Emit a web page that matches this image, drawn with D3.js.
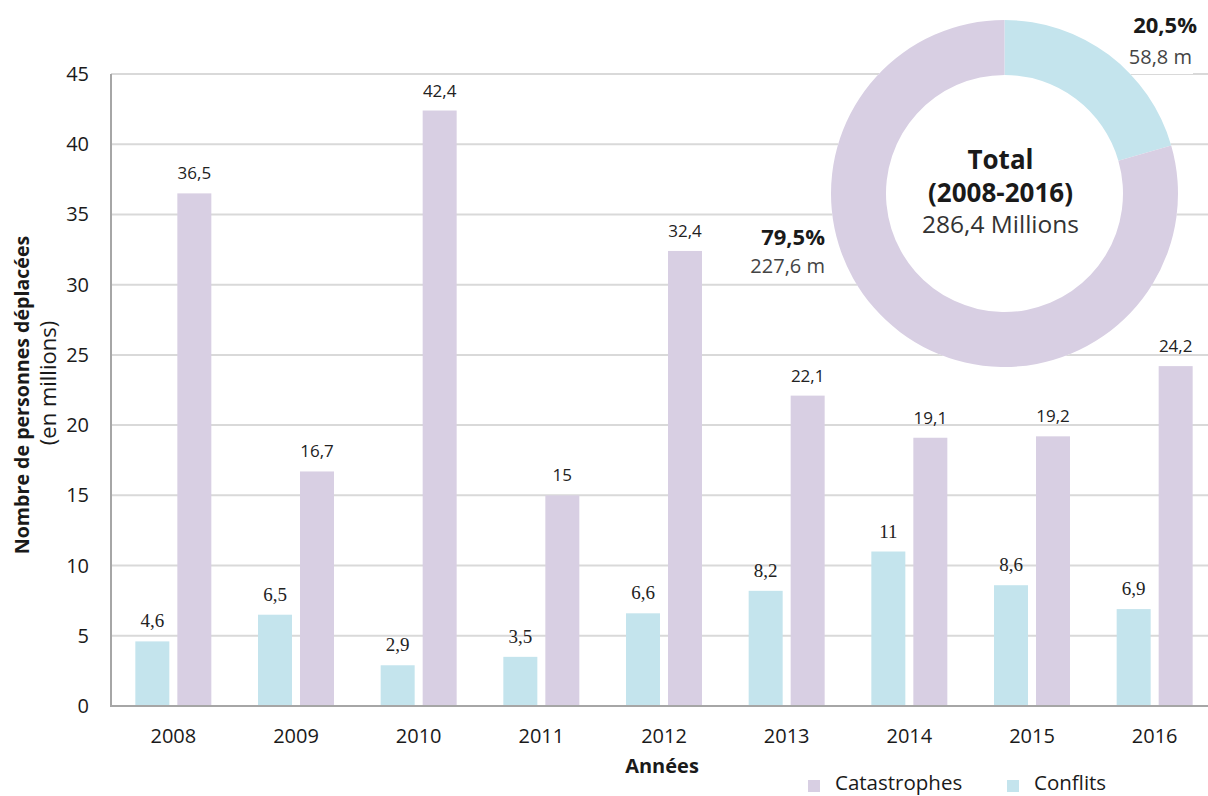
<!DOCTYPE html>
<html><head><meta charset="utf-8">
<script src="https://cdn.jsdelivr.net/npm/d3@7/dist/d3.min.js"></script>
<style>body{margin:0;background:#fff}svg{display:block}</style>
</head><body><svg id="c" width="1208" height="796" font-family="Open Sans, sans-serif"></svg>
<script>
const years = ["2008","2009","2010","2011","2012","2013","2014","2015","2016"];
const catastrophes = [36.5,16.7,42.4,15,32.4,22.1,19.1,19.2,24.2];
const conflits = [4.6,6.5,2.9,3.5,6.6,8.2,11,8.6,6.9];
const yTicks = [0,5,10,15,20,25,30,35,40,45];
const donutLabels = ["Conflits","Catastrophes"];
const donutValues = [58.8,227.6];
const donutPct = ["20,5%","79,5%"];
const donutVal = ["58,8 m","227,6 m"];
const totalLines = ["Total","(2008-2016)","286,4 Millions"];

const colCat = "#d8cfe3", colCon = "#c4e4ed";
const SANS = "'Open Sans', sans-serif", SERIF = "'Liberation Serif', 'Times New Roman', serif";
const svg = d3.select("#c");
const loc = d3.formatLocale({decimal:",",thousands:" ",grouping:[3],currency:["",""]});
const fmt = v => loc.format("~g")(v);

const x = d3.scaleBand().domain(years).range([112,1216]);
const y = d3.scaleLinear().domain([0,45]).range([706,74]);
const bw = 34, gap = 8;

// grid
svg.append("g").selectAll("line").data(yTicks.filter(t=>t>0)).join("line")
  .attr("x1",111).attr("x2",1208).attr("y1",d=>y(d)).attr("y2",d=>y(d))
  .attr("stroke","#d9d9d9").attr("stroke-width",2);

// y tick labels
svg.append("g").selectAll("text").data(yTicks).join("text")
  .attr("x",89).attr("y",d=>y(d)+7).attr("text-anchor","end").attr("font-family",SANS)
  .attr("font-size",20).attr("fill","#1a1a1a").text(d=>d);

// bars
const g = svg.append("g");
g.selectAll(".con").data(conflits).join("rect")
  .attr("x",(d,i)=>x(years[i])+x.bandwidth()/2-gap/2-bw).attr("width",bw)
  .attr("y",d=>y(d)).attr("height",d=>y(0)-y(d)).attr("fill",colCon);
g.selectAll(".cat").data(catastrophes).join("rect")
  .attr("x",(d,i)=>x(years[i])+x.bandwidth()/2+gap/2).attr("width",bw)
  .attr("y",d=>y(d)).attr("height",d=>y(0)-y(d)).attr("fill",colCat);

// labels
g.selectAll(".lcon").data(conflits).join("text")
  .attr("x",(d,i)=>x(years[i])+x.bandwidth()/2-gap/2-bw/2).attr("y",d=>y(d)-14)
  .attr("text-anchor","middle").attr("font-size",19).attr("fill","#222")
  .attr("font-family",SERIF).text(d=>fmt(d));
g.selectAll(".lcat").data(catastrophes).join("text")
  .attr("x",(d,i)=>x(years[i])+x.bandwidth()/2+gap/2+bw/2).attr("y",d=>y(d)-14)
  .attr("text-anchor","middle").attr("font-size",17).attr("font-family",SANS).attr("fill","#222").text(d=>fmt(d));

// axes
svg.append("line").attr("x1",111).attr("x2",111).attr("y1",y(45)).attr("y2",y(0)+1).attr("stroke","#a6a6a6").attr("stroke-width",2);
svg.append("line").attr("x1",111).attr("x2",1208).attr("y1",y(0)).attr("y2",y(0)).attr("stroke","#a6a6a6").attr("stroke-width",2);

svg.append("g").selectAll("text").data(years).join("text")
  .attr("x",d=>x(d)+x.bandwidth()/2).attr("y",743).attr("text-anchor","middle").attr("font-family",SANS)
  .attr("font-size",20).attr("fill","#1a1a1a").text(d=>d);

svg.append("text").attr("x",662).attr("y",773).attr("text-anchor","middle").attr("font-family",SANS)
  .attr("font-size",20).attr("font-weight","bold").attr("fill","#1a1a1a").text("Années");

svg.append("text").attr("transform","translate(29,395) rotate(-90)").attr("text-anchor","middle").attr("font-family",SANS)
  .attr("font-size",19.6).attr("font-weight","bold").attr("fill","#1a1a1a").text("Nombre de personnes déplacées");
svg.append("text").attr("transform","translate(56,383) rotate(-90)").attr("text-anchor","middle").attr("font-family",SANS)
  .attr("font-size",22).attr("fill","#1a1a1a").text("(en millions)");

// legend
const leg = [{t:"Catastrophes",c:colCat,x:808},{t:"Conflits",c:colCon,x:1007}];
const lg = svg.append("g").selectAll("g").data(leg).join("g");
lg.append("rect").attr("x",d=>d.x).attr("y",780).attr("width",12).attr("height",12).attr("fill",d=>d.c);
lg.append("text").attr("x",d=>d.x+27).attr("y",790).attr("font-family",SANS).attr("font-size",20.5).attr("fill","#1a1a1a").text(d=>d.t);

// white box behind top label
svg.append("rect").attr("x",1126).attr("y",4).attr("width",67).attr("height",70).attr("fill","#fff");

// donut
const cx = 1004.5, cy = 193.5, R = 173.5, r = 118.5;
const dg = svg.append("g").attr("transform",`translate(${cx},${cy})`);
dg.append("circle").attr("r",R).attr("fill","#fff");
const pie = d3.pie().sort(null)(donutValues);
const arc = d3.arc().innerRadius(r).outerRadius(R);
dg.selectAll("path").data(pie).join("path").attr("d",arc).attr("fill",(d,i)=>i===0?colCon:colCat);
const ty = [-25, 8, 39];
dg.selectAll(".tot").data(totalLines).join("text")
  .attr("x",-4).attr("y",(d,i)=>ty[i]).attr("text-anchor","middle").attr("font-family",SANS)
  .attr("font-size",(d,i)=>i<2?26:24.5).attr("font-weight",(d,i)=>i<2?"bold":"normal")
  .attr("fill",(d,i)=>i<2?"#1a1a1a":"#333").text(d=>d);

// donut labels
const dl = [{x:1197,y:33,x2:1192,y2:64},{x:825,y:245,x2:825,y2:273}];
dl.forEach((p,i)=>{
  svg.append("text").attr("x",p.x).attr("y",p.y).attr("text-anchor","end").attr("font-family",SANS)
    .attr("font-size",22).attr("font-weight","bold").attr("fill","#1a1a1a").text(donutPct[i]);
  svg.append("text").attr("x",p.x2).attr("y",p.y2).attr("text-anchor","end").attr("font-family",SANS)
    .attr("font-size",20).attr("fill","#444").text(donutVal[i]);
});
</script></body></html>
